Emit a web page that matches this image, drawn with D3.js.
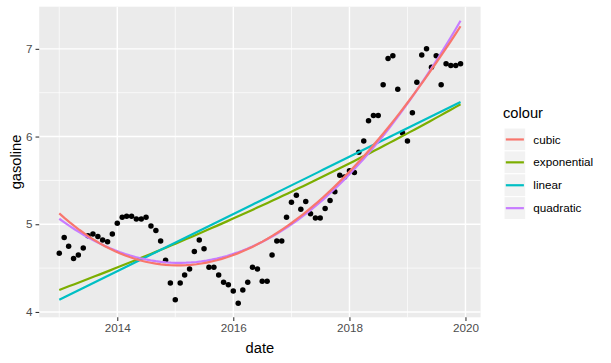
<!DOCTYPE html>
<html>
<head>
<meta charset="utf-8">
<script src="https://cdn.jsdelivr.net/npm/d3@7"></script>
<style>
  body { margin: 0; background: #fff; }
  svg { display: block; font-family: "Liberation Sans", Arial, sans-serif; }
</style>
</head>
<body>
<svg id="chart" width="611" height="363"></svg>
<script>
// ---- data (monthly gasoline price, Jan 2013 – Dec 2019) ----
const startMonth = "2013-01";
const gasoline = [
  4.67, 4.85, 4.75, 4.61, 4.65, 4.73, 4.87, 4.89, 4.86, 4.82, 4.80, 4.89,
  5.01, 5.08, 5.09, 5.09, 5.06, 5.06, 5.08, 4.98, 4.93, 4.81, 4.59, 4.33,
  4.14, 4.33, 4.42, 4.49, 4.69, 4.82, 4.72, 4.51, 4.51, 4.42, 4.34, 4.31,
  4.24, 4.10, 4.25, 4.34, 4.51, 4.49, 4.35, 4.35, 4.65, 4.81, 4.81, 5.08,
  5.25, 5.33, 5.17, 5.26, 5.12, 5.07, 5.07, 5.18, 5.27, 5.37, 5.56, 5.54,
  5.61, 5.59, 5.82, 5.95, 6.18, 6.24, 6.24, 6.59, 6.89, 6.92, 6.54, 6.04,
  5.95, 6.27, 6.62, 6.93, 7.00, 6.79, 6.92, 6.59, 6.83, 6.81, 6.81, 6.83
];
const seriesNames = ["cubic", "exponential", "linear", "quadratic"];
const seriesColors = ["#F8766D", "#7CAE00", "#00BFC4", "#C77CFF"];
const drawOrder = ["exponential", "linear", "quadratic", "cubic"];
const xMajorYears = [2014, 2016, 2018, 2020];
const xMinorYears = [2013, 2015, 2017, 2019];
const yMajorTicks = [4, 5, 6, 7];
const yMinorTicks = [4.5, 5.5, 6.5];

// ---- build data ----
const parseMonth = d3.utcParse("%Y-%m");
const start = parseMonth(startMonth);
const dates = gasoline.map((_, i) => d3.utcMonth.offset(start, i));
const points = dates.map((d, i) => ({ date: d, value: gasoline[i] }));

// ---- least squares fits (as geom_smooth with lm) ----
const xs = points.map(p => +p.date);
const xMean = d3.mean(xs), xSd = d3.deviation(xs);
const tz = x => (x - xMean) / xSd;

function polyFit(deg, ys) {
  const n = deg + 1;
  const A = Array.from({ length: n }, () => new Array(n + 1).fill(0));
  xs.forEach((x, k) => {
    const t = tz(x);
    const pw = d3.range(2 * n).map(j => Math.pow(t, j));
    for (let i = 0; i < n; i++) {
      for (let j = 0; j < n; j++) A[i][j] += pw[i + j];
      A[i][n] += pw[i] * ys[k];
    }
  });
  for (let c = 0; c < n; c++) {
    let piv = c;
    for (let r = c + 1; r < n; r++) if (Math.abs(A[r][c]) > Math.abs(A[piv][c])) piv = r;
    [A[c], A[piv]] = [A[piv], A[c]];
    for (let r = 0; r < n; r++) {
      if (r === c) continue;
      const f = A[r][c] / A[c][c];
      for (let j = c; j <= n; j++) A[r][j] -= f * A[c][j];
    }
  }
  const coef = A.map((row, i) => row[n] / row[i]);
  return x => { const t = tz(x); return coef.reduce((s, c, i) => s + c * Math.pow(t, i), 0); };
}

const ys = points.map(p => p.value);
const fLin = polyFit(1, ys);
const fQuad = polyFit(2, ys);
const fCub = polyFit(3, ys);
const fLogLin = polyFit(1, ys.map(Math.log));
const fExp = x => Math.exp(fLogLin(x));
const fits = { linear: fLin, quadratic: fQuad, cubic: fCub, exponential: fExp };

const xMin = d3.min(xs), xMax = d3.max(xs);
const gridX = d3.range(80).map(i => xMin + (xMax - xMin) * i / 79);
const smooth = {};
seriesNames.forEach(s => { smooth[s] = gridX.map(x => ({ x, y: fits[s](x) })); });

// ---- layout ----
const svg = d3.select("#chart");
const P = { left: 39.2, right: 480.6, top: 6.7, bottom: 317.3 };

const xr = xMax - xMin;
const x = d3.scaleUtc()
  .domain([new Date(xMin - 0.05 * xr), new Date(xMax + 0.05 * xr)])
  .range([P.left, P.right]);

const allY = ys.concat(...seriesNames.map(s => smooth[s].map(d => d.y)));
const yLo = d3.min(allY), yHi = d3.max(allY), yr = yHi - yLo;
const y = d3.scaleLinear()
  .domain([yLo - 0.05 * yr, yHi + 0.05 * yr])
  .range([P.bottom, P.top]);

const yearDate = yv => new Date(Date.UTC(yv, 0, 1));

// panel
svg.append("rect").attr("x", P.left).attr("y", P.top)
  .attr("width", P.right - P.left).attr("height", P.bottom - P.top)
  .attr("fill", "#EBEBEB");

const grid = svg.append("g");
xMinorYears.forEach(v => grid.append("line")
  .attr("x1", x(yearDate(v))).attr("x2", x(yearDate(v)))
  .attr("y1", P.top).attr("y2", P.bottom)
  .attr("stroke", "#fff").attr("stroke-width", 0.7));
yMinorTicks.forEach(v => grid.append("line")
  .attr("x1", P.left).attr("x2", P.right)
  .attr("y1", y(v)).attr("y2", y(v))
  .attr("stroke", "#fff").attr("stroke-width", 0.7));
xMajorYears.forEach(v => grid.append("line")
  .attr("x1", x(yearDate(v))).attr("x2", x(yearDate(v)))
  .attr("y1", P.top).attr("y2", P.bottom)
  .attr("stroke", "#fff").attr("stroke-width", 1.4));
yMajorTicks.forEach(v => grid.append("line")
  .attr("x1", P.left).attr("x2", P.right)
  .attr("y1", y(v)).attr("y2", y(v))
  .attr("stroke", "#fff").attr("stroke-width", 1.4));

// points
svg.append("g").selectAll("circle").data(points).join("circle")
  .attr("cx", d => x(d.date)).attr("cy", d => y(d.value))
  .attr("r", 2.75).attr("fill", "#000");

// smooth lines
const colorOf = s => seriesColors[seriesNames.indexOf(s)];
const line = d3.line().x(d => x(new Date(d.x))).y(d => y(d.y));
drawOrder.forEach(s => svg.append("path")
  .attr("d", line(smooth[s]))
  .attr("fill", "none").attr("stroke", colorOf(s))
  .attr("stroke-width", 2.2));

// axes
const xAxis = svg.append("g").attr("transform", `translate(0,${P.bottom})`)
  .call(d3.axisBottom(x).tickValues(xMajorYears.map(yearDate))
    .tickFormat(d3.utcFormat("%Y")).tickSize(3.67).tickPadding(2.9));
const yAxis = svg.append("g").attr("transform", `translate(${P.left},0)`)
  .call(d3.axisLeft(y).tickValues(yMajorTicks).tickFormat(d3.format("d"))
    .tickSize(3.67).tickPadding(2.9));
[xAxis, yAxis].forEach(g => {
  g.select(".domain").remove();
  g.selectAll(".tick line").attr("stroke", "#333333").attr("stroke-width", 1.07);
  g.selectAll(".tick text").attr("fill", "#4D4D4D")
    .style("font-size", "11.7px").style("font-family", '"Liberation Sans", Arial, sans-serif');
});

// axis titles
svg.append("text").attr("x", (P.left + P.right) / 2).attr("y", 352.5)
  .attr("text-anchor", "middle").style("font-size", "14.7px").attr("fill", "#000")
  .text("date");
svg.append("text").attr("transform", `translate(20.5,${(P.top + P.bottom) / 2}) rotate(-90)`)
  .attr("text-anchor", "middle").style("font-size", "14.7px").attr("fill", "#000")
  .text("gasoline");

// legend
const lg = svg.append("g").attr("transform", "translate(504,128)");
lg.append("text").attr("x", -1).attr("y", -10).style("font-size", "14.7px")
  .attr("fill", "#000").text("colour");
const keyH = 22.9;
seriesNames.forEach((s, i) => {
  const g = lg.append("g").attr("transform", `translate(0,${i * keyH})`);
  g.append("rect").attr("x", 0).attr("y", 0).attr("width", 21.7).attr("height", keyH)
    .attr("fill", "#F2F2F2").attr("stroke", "#fff").attr("stroke-width", 1);
  g.append("line").attr("x1", 1.8).attr("x2", 19.9)
    .attr("y1", keyH / 2).attr("y2", keyH / 2)
    .attr("stroke", seriesColors[i]).attr("stroke-width", 2.2);
  g.append("text").attr("x", 29.3).attr("y", keyH / 2).attr("dy", "0.35em")
    .style("font-size", "11.7px").attr("fill", "#000").text(s);
});
</script>
</body>
</html>
